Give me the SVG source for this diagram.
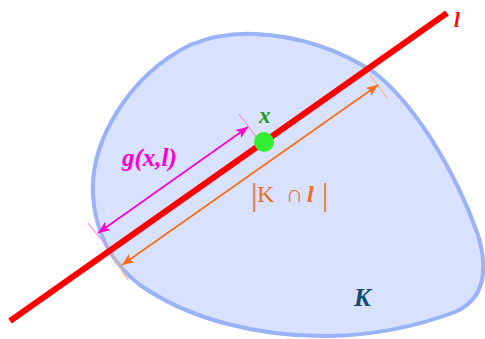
<svg xmlns="http://www.w3.org/2000/svg" width="485" height="339" viewBox="0 0 485 339">
<defs>
<style>
.lbl{font-family:"Liberation Serif","DejaVu Serif",serif;font-weight:bold;font-style:italic}
.tick{stroke-width:1.2;fill:none}
</style>
<marker id="am" viewBox="0 0 12 10" refX="12" refY="5" markerWidth="12" markerHeight="10" markerUnits="userSpaceOnUse" orient="auto-start-reverse">
<path d="M0,0 L12,5 L0,10 L3,5 Z" fill="#ff00cc"/>
</marker>
<marker id="ao" viewBox="0 0 12 10" refX="12" refY="5" markerWidth="12" markerHeight="10" markerUnits="userSpaceOnUse" orient="auto-start-reverse">
<path d="M0,0 L12,5 L0,10 L3,5 Z" fill="#ff6a10"/>
</marker>
</defs>
<rect width="485" height="339" fill="#ffffff"/>
<g id="K">
<path d="M93,195 C90,140 130,75 190,45 C215,35 235,33 255,34 C300,36 340,50 375,73 C415,105 455,170 478,235 C490,275 482,300 455,312 C420,325 380,335 330,336 C260,337 190,320 140,285 C110,262 95,230 93,195 Z" fill="#d8e1fe" stroke="#99b2f8" stroke-width="4"/>
<text class="lbl" x="354" y="306" font-size="25" fill="#0d4a78">K</text>
</g>
<g id="connectors">
<line id="line-l" x1="10" y1="321" x2="447" y2="13" stroke="#ff0000" stroke-width="6"/>
<line x1="239" y1="114" x2="257" y2="138" class="tick" stroke="#ff88dd"/>
<line x1="88" y1="223" x2="108" y2="248" class="tick" stroke="#ff88dd"/>
<line x1="98" y1="233" x2="248" y2="127" stroke="#ff00cc" stroke-width="1.6" marker-start="url(#am)" marker-end="url(#am)"/>
<line x1="370" y1="75" x2="387" y2="98" class="tick" stroke="#ffb080"/>
<line x1="112" y1="255" x2="128" y2="280" class="tick" stroke="#ffb080"/>
<line x1="122" y1="265" x2="378" y2="85" stroke="#ff6a10" stroke-width="1.6" marker-start="url(#ao)" marker-end="url(#ao)"/>
</g>
<g id="x">
<circle cx="264" cy="142" r="10" fill="#33ee33"/>
<text class="lbl" x="259" y="123" font-size="23" fill="#1a9a1a">x</text>
</g>
<g id="l-label">
<text class="lbl" x="454" y="27" font-size="21" fill="#ff0000">l</text>
</g>
<g id="g-label">
<text class="lbl" x="122" y="166" font-size="25" fill="#ff00cc">g(x,l)</text>
</g>
<g id="KL-label">
<text font-family="Liberation Serif,DejaVu Serif,serif" fill="#f07020" font-size="24"><tspan x="251" y="205" font-size="32">|</tspan><tspan x="257" y="202">K</tspan><tspan x="286" y="202">∩</tspan><tspan x="307" y="202" font-weight="bold" font-style="italic">l</tspan><tspan x="322" y="205" font-size="32">|</tspan></text>
</g>
</svg>
